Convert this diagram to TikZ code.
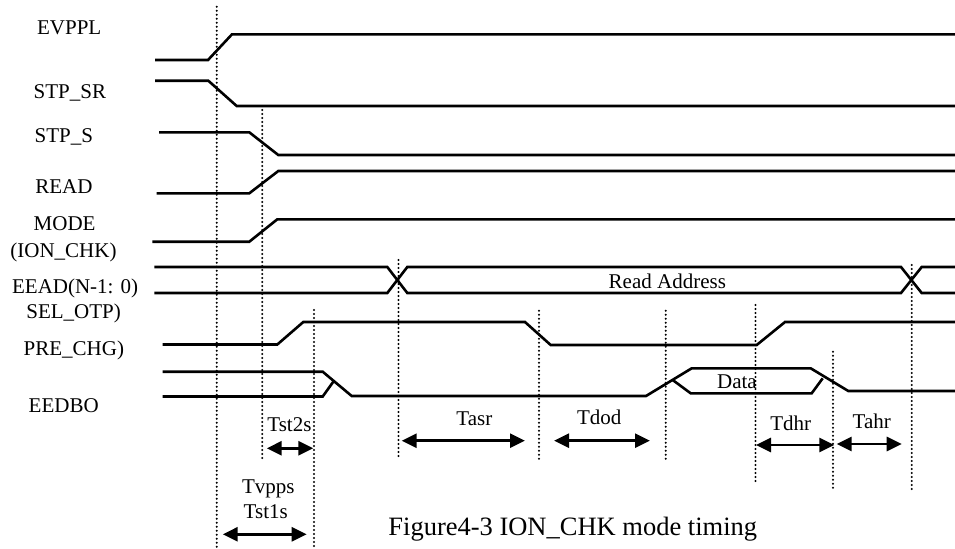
\documentclass[tikz,border=0pt]{standalone}
\usepackage{fontspec}
\setmainfont{Liberation Serif}
\usetikzlibrary{arrows.meta}
\begin{document}
\begin{tikzpicture}[x=0.5pt,y=-0.5pt,
  sig/.style={line width=1.3pt, line join=miter},
  guide/.style={line width=1.1pt, line cap=round, dash pattern=on 0pt off 2pt},
  dim/.style={line width=1.4pt, {Triangle[length=7.5pt,width=7pt]}-{Triangle[length=7.5pt,width=7pt]}},
  lbl/.style={anchor=base west, inner sep=0pt, font=\fontsize{10.5}{12}\selectfont},
  captext/.style={anchor=base west, inner sep=0pt, font=\fontsize{13.25}{15}\selectfont}]
\useasboundingbox (0,0) rectangle (955,548);

% signal labels
\node[lbl] (lEVPPL) at (36.7,34.3) {EVPPL};
\node[lbl] (lSTPSR) at (33.3,98.3) {STP\_SR};
\node[lbl] (lSTPS) at (34.3,142.7) {STP\_S};
\node[lbl] (lREAD) at (35,193.3) {READ};
\node[lbl] (lMODE) at (33.3,230) {MODE};
\node[lbl] (lION) at (10,257.3) {(ION\_CHK)};
\node[lbl] (lEEAD) at (11.7,293.3) {EEAD(N-1: 0)};
\node[lbl] (lSEL) at (26,318.3) {SEL\_OTP)};
\node[lbl] (lPRE) at (23.3,355.7) {PRE\_CHG)};
\node[lbl] (lEEDBO) at (28.3,412.3) {EEDBO};

% waveforms
\draw[sig] (155,60)--(208,60)--(232,34.3)--(955,34.3);
\draw[sig] (155,80.7)--(208.3,80.7)--(236.7,106)--(955,106);
\draw[sig] (159,132.3)--(249.3,132.3)--(278.3,155)--(955,155);
\draw[sig] (156.7,193.3)--(249.3,193.3)--(278.3,171)--(955,171);
\draw[sig] (152.3,241.7)--(249.3,241.7)--(277.3,219.3)--(955,219.3);
\draw[sig] (154.3,267)--(387.3,267)--(407.3,293)--(901,293)--(921.7,267)--(955,267);
\draw[sig] (154.3,293)--(387.3,293)--(407.3,267)--(901,267)--(921.7,293)--(955,293);
\draw[sig] (162.7,344.5)--(277.3,344.5)--(303.3,322)--(525,322)--(550.7,345)--(756.7,345)--(785,322)--(955,322);
\draw[sig] (162.7,371.7)--(322.7,371.7)--(351.7,396)--(646,396)--(691.7,368.3)--(810.7,368.3)--(848.3,391)--(955,391);
\draw[sig] (162.7,396.5)--(322.7,396.5)--(333.3,381.7);
\draw[sig] (672.7,380)--(690.7,393.3)--(811.7,393.3)--(822.7,378.3);

\node[lbl] (tRA) at (608.3,288.3) {Read Address};
\node[lbl] (tData) at (716.7,388.3) {Data};

% guide lines
\draw[guide] (216.7,6.7)--(216.7,548);
\draw[guide] (262.3,110)--(262.3,459);
\draw[guide] (314,310)--(314,548);
\draw[guide] (398.5,260)--(398.5,458);
\draw[guide] (539,310.7)--(539,461.7);
\draw[guide] (665.7,310.7)--(665.7,461.7);
\draw[guide] (755.5,305)--(755.5,483.3);
\draw[guide] (833,351.7)--(833,488.3);
\draw[guide] (911.7,265)--(911.7,490);

% dimension arrows
\coordinate (a1) at (266.7,448.3); \coordinate (b1) at (313.3,448.3);
\coordinate (a2) at (222.7,534.3); \coordinate (b2) at (306.7,534.3);
\coordinate (a3) at (401.7,440.7); \coordinate (b3) at (525,440.7);
\coordinate (a4) at (554,440.7); \coordinate (b4) at (650,440.7);
\coordinate (a5) at (756,445); \coordinate (b5) at (834.3,445);
\coordinate (a6) at (836.7,444); \coordinate (b6) at (901.7,444);
\draw[dim] (a1)--(b1);
\draw[dim] (a2)--(b2);
\draw[dim] (a3)--(b3);
\draw[dim] (a4)--(b4);
\draw[dim] (a5)--(b5);
\draw[dim] (a6)--(b6);

\node[lbl] (tTst2s) at (267,431.7) {Tst2s};
\node[lbl] (tTvpps) at (241.7,493.3) {Tvpps};
\node[lbl] (tTst1s) at (243.3,518.3) {Tst1s};
\node[lbl] (tTasr) at (456,425) {Tasr};
\node[lbl] (tTdod) at (576.7,424) {Tdod};
\node[lbl] (tTdhr) at (770,430) {Tdhr};
\node[lbl] (tTahr) at (852.3,428.3) {Tahr};

\node[captext] (caption) at (388,535) {Figure4-3 ION\_CHK mode timing};
\end{tikzpicture}
\end{document}
